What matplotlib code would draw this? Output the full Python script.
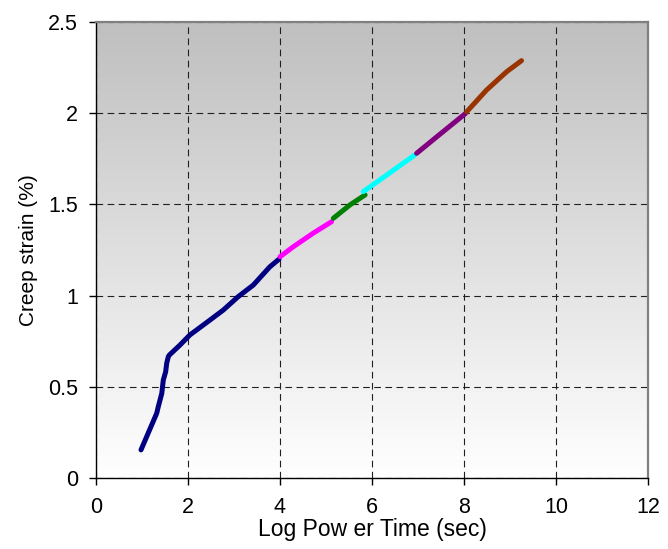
import numpy as np
import matplotlib
matplotlib.use("Agg")
import matplotlib.pyplot as plt

plt.rcParams['font.family'] = ['Liberation Sans', 'DejaVu Sans']

# Data segments (x = log power time, y = creep strain %)
navy_x = [0.978, 1.32, 1.354, 1.43, 1.463, 1.515, 1.537, 1.572, 1.594, 1.826, 2.04, 2.478, 2.768, 3.09, 3.42, 3.78, 3.98]
navy_y = [0.154, 0.355, 0.391, 0.464, 0.537, 0.583, 0.629, 0.665, 0.674, 0.729, 0.784, 0.866, 0.921, 0.994, 1.058, 1.158, 1.200]
magenta_x = [4.0, 4.29, 4.72, 5.12]
magenta_y = [1.213, 1.268, 1.342, 1.405]
green_x = [5.16, 5.52, 5.85]
green_y = [1.424, 1.497, 1.552]
cyan_x = [5.81, 6.32, 6.93]
cyan_y = [1.570, 1.661, 1.771]
purple_x = [6.97, 7.41, 8.03]
purple_y = [1.780, 1.871, 1.998]
brown_x = [8.06, 8.49, 8.93, 9.25]
brown_y = [2.008, 2.127, 2.228, 2.288]

series = [
    (navy_x, navy_y, '#000080'),
    (magenta_x, magenta_y, '#ff00ff'),
    (green_x, green_y, '#008000'),
    (cyan_x, cyan_y, '#00ffff'),
    (purple_x, purple_y, '#800080'),
    (brown_x, brown_y, '#993300'),
]

x_ticks = [0, 2, 4, 6, 8, 10, 12]
y_ticks = [0, 0.5, 1, 1.5, 2, 2.5]
y_tick_labels = ['0', '0.5', '1', '1.5', '2', '2.5']

W, H = 668, 549
fig = plt.figure(figsize=(W / 100, H / 100), dpi=100)
ax = fig.add_axes([96 / W, 1 - 478 / H, (648 - 96) / W, (478 - 22) / H])

# gradient background
grad = np.linspace(0, 1, 256).reshape(-1, 1)
top = np.array([0.75, 0.75, 0.75])
bot = np.array([1.0, 1.0, 1.0])
img = top[None, None, :] * (1 - grad[:, :, None]) + bot[None, None, :] * grad[:, :, None]
ax.imshow(img, extent=[0, 1, 0, 1], transform=ax.transAxes, aspect='auto', zorder=0)

for xs, ys, c in series:
    ax.plot(xs, ys, color=c, lw=3.6, solid_capstyle='round', solid_joinstyle='round', zorder=3)

ax.set_xlim(0, 12)
ax.set_ylim(0, 2.5)
ax.set_xticks(x_ticks)
ax.set_yticks(y_ticks)
ax.set_yticklabels(y_tick_labels)
ax.grid(True, color='#202020', linestyle=(0, (6, 4)), linewidth=0.8, zorder=1)
ax.set_axisbelow(True)

for s in ['top', 'right']:
    ax.spines[s].set_color('#808080')
    ax.spines[s].set_linewidth(1.6)
for s in ['left', 'bottom']:
    ax.spines[s].set_color('black')
    ax.spines[s].set_linewidth(1.0)

ax.tick_params(direction='out', length=5, width=1, labelsize=15.5)
ax.tick_params(axis='x', pad=9)
ax.tick_params(axis='y', pad=8)
ax.set_xlabel('Log Pow er Time (sec)', fontsize=16.5, labelpad=0)
ax.set_ylabel('Creep strain (%)', fontsize=15, labelpad=7)

fig.savefig('out.png', dpi=100)
